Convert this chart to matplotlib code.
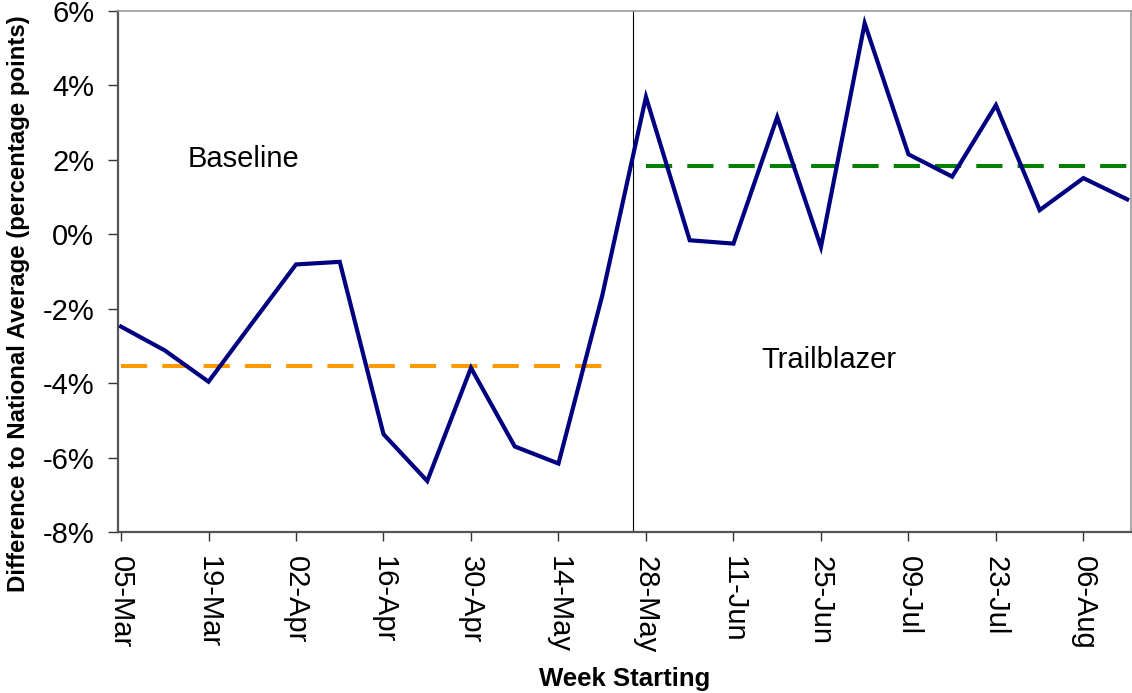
import matplotlib.pyplot as plt
import matplotlib.ticker as mtick

plt.rcParams['font.family'] = ['Liberation Sans', 'DejaVu Sans']

# weekly data, week starting dates
weeks = ['05-Mar', '12-Mar', '19-Mar', '26-Mar', '02-Apr', '09-Apr', '16-Apr', '23-Apr',
         '30-Apr', '07-May', '14-May', '21-May', '28-May', '04-Jun', '11-Jun', '18-Jun',
         '25-Jun', '02-Jul', '09-Jul', '16-Jul', '23-Jul', '30-Jul', '06-Aug', '13-Aug']
diff = [-2.48, -3.12, -3.96, -2.38, -0.81, -0.74, -5.37, -6.63,
        -3.59, -5.70, -6.16, -1.65, 3.69, -0.16, -0.25, 3.15,
        -0.34, 5.67, 2.15, 1.55, 3.47, 0.65, 1.51, 0.94]

baseline_avg = -3.54
trailblazer_avg = 1.84
baseline_weeks = 12   # first 12 weeks are baseline
split_pos = 11.71     # divider between periods

x = list(range(len(weeks)))

fig = plt.figure(figsize=(11.32, 6.93), dpi=100)
ax = fig.add_axes([0.1042, 0.2323, 0.8950, 0.7518])

ax.plot(x, diff, color='#000080', lw=3, solid_joinstyle='miter', zorder=4)

ax.plot([0, baseline_weeks - 1], [baseline_avg] * 2, color='#FF9900', lw=2.9,
        dashes=(6.5, 3.75), zorder=3)
ax.plot([baseline_weeks, len(weeks) - 1], [trailblazer_avg] * 2, color='#008000', lw=2.9,
        dashes=(6.5, 3.75), zorder=3)

ax.axvline(split_pos, color='black', lw=0.8, zorder=2)

ax.text(2.81, 1.81, 'Baseline', fontsize=21, ha='center', va='baseline')
ax.text(16.19, -3.59, 'Trailblazer', fontsize=21, ha='center', va='baseline')

ax.set_xlim(-0.07, 23.09)
ax.set_ylim(-8, 6)
ax.set_yticks(range(-8, 7, 2))
ax.yaxis.set_major_formatter(mtick.FuncFormatter(lambda v, p: f'{v:.0f}%'))
ax.set_xticks(x[::2])
ax.set_xticklabels(weeks[::2], rotation=-90, ha='center', va='top')

ax.tick_params(axis='y', labelsize=21, length=7, width=1, pad=10, color='#333333')
ax.tick_params(axis='x', labelsize=21, length=6.5, width=1, pad=11, color='#333333')

for s in ['left', 'bottom']:
    ax.spines[s].set_color('#555555')
    ax.spines[s].set_linewidth(1.6)
for s in ['top', 'right']:
    ax.spines[s].set_color('#999999')
    ax.spines[s].set_linewidth(1.2)

ax.set_xlabel('Week Starting', fontsize=18.5, fontweight='bold', labelpad=10)
ax.set_ylabel('Difference to National Average (percentage points)', fontsize=17.3,
              fontweight='bold')
ax.yaxis.set_label_coords(-0.087, 0.4376)

fig.savefig('out.png', dpi=100)
